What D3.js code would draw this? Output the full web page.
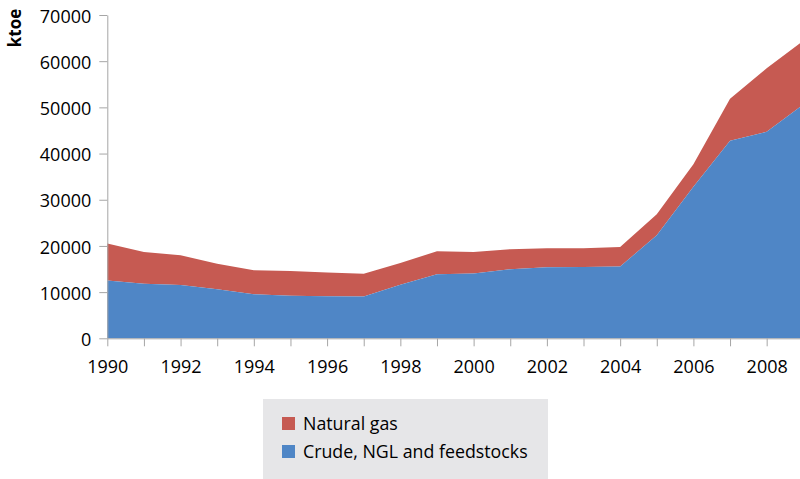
<!DOCTYPE html>
<html>
<head>
<meta charset="utf-8">
<script src="https://cdn.jsdelivr.net/npm/d3@7"></script>
<style>
  html, body { margin: 0; padding: 0; background: #fff; }
  svg { display: block; }
  text { font-family: "Open Sans", "Noto Sans", sans-serif; fill: #000; }
</style>
</head>
<body>
<svg id="chart" width="800" height="479"></svg>
<script>
// Production by fuel, ktoe
const years = [1990, 1991, 1992, 1993, 1994, 1995, 1996, 1997, 1998, 1999,
               2000, 2001, 2002, 2003, 2004, 2005, 2006, 2007, 2008, 2009];
const crude = [12500, 11800, 11550, 10600, 9550, 9200, 9100, 9050, 11600, 13850,
               14050, 14950, 15400, 15450, 15550, 22300, 32800, 42750, 44700, 50600];
const naturalGas = [8000, 6900, 6450, 5550, 5200, 5350, 5150, 4900, 4700, 5000,
                    4650, 4350, 4100, 4050, 4200, 4550, 4900, 9100, 13750, 13800];
const yTicks = [0, 10000, 20000, 30000, 40000, 50000, 60000, 70000];
const seriesNames = ["Natural gas", "Crude, NGL and feedstocks"];
const seriesColors = ["#C65A52", "#4F86C6"];

const svg = d3.select("#chart");
const x = d3.scaleLinear().domain([1990, 2009]).range([107.3, 803.3]);
const y = d3.scaleLinear().domain([0, 70000]).range([338.3, 15]);

const rows = years.map((yr, i) => ({ year: yr, crude: crude[i], gas: naturalGas[i] }));
const stack = d3.stack().keys(["crude", "gas"])(rows);

const area = d3.area()
  .x(d => x(d.data.year))
  .y0(d => y(d[0]))
  .y1(d => y(d[1]));

// gas layer on top, crude layer at the bottom
svg.append("path").datum(stack[1]).attr("d", area).attr("fill", seriesColors[0]);
svg.append("path").datum(stack[0]).attr("d", area).attr("fill", seriesColors[1]);

// Y axis
const yAxis = svg.append("g").attr("transform", `translate(${x(1990)},0)`)
  .call(d3.axisLeft(y).tickValues(yTicks).tickSize(8).tickSizeOuter(0).tickPadding(8)
    .tickFormat(d3.format("d")));
yAxis.select(".domain").attr("stroke", "#a6a6a6");
yAxis.selectAll(".tick line").attr("stroke", "#a6a6a6");
yAxis.selectAll(".tick text").attr("font-size", 18).attr("font-family", "Open Sans")
  .attr("fill", "#000").attr("dy", "0.40em");

// X axis
const xAxis = svg.append("g").attr("transform", `translate(0,${y(0)})`)
  .call(d3.axisBottom(x).tickValues(years).tickSize(8).tickSizeOuter(0).tickPadding(14)
    .tickFormat(d => d % 2 === 0 ? String(d) : ""));
xAxis.select(".domain").attr("stroke", "#a6a6a6");
xAxis.selectAll(".tick line").attr("stroke", "#a6a6a6");
xAxis.selectAll(".tick text").attr("font-size", 18).attr("font-family", "Open Sans").attr("fill", "#000");

// Y axis title
svg.append("text")
  .attr("transform", "translate(21,28) rotate(-90)")
  .attr("text-anchor", "middle")
  .attr("font-size", 17)
  .attr("font-weight", "bold")
  .text("ktoe");

// Legend
const legend = svg.append("g").attr("transform", "translate(263,399)");
legend.append("rect").attr("width", 285).attr("height", 80).attr("fill", "#E6E6E8");
seriesNames.forEach((name, i) => {
  const g = legend.append("g").attr("transform", `translate(19,${18 + i * 28})`);
  g.append("rect").attr("width", 13).attr("height", 13).attr("fill", seriesColors[i]);
  g.append("text").attr("x", 21).attr("y", 13).attr("font-size", 17.8)
    .attr("font-family", "Open Sans").text(name);
});
</script>
</body>
</html>
